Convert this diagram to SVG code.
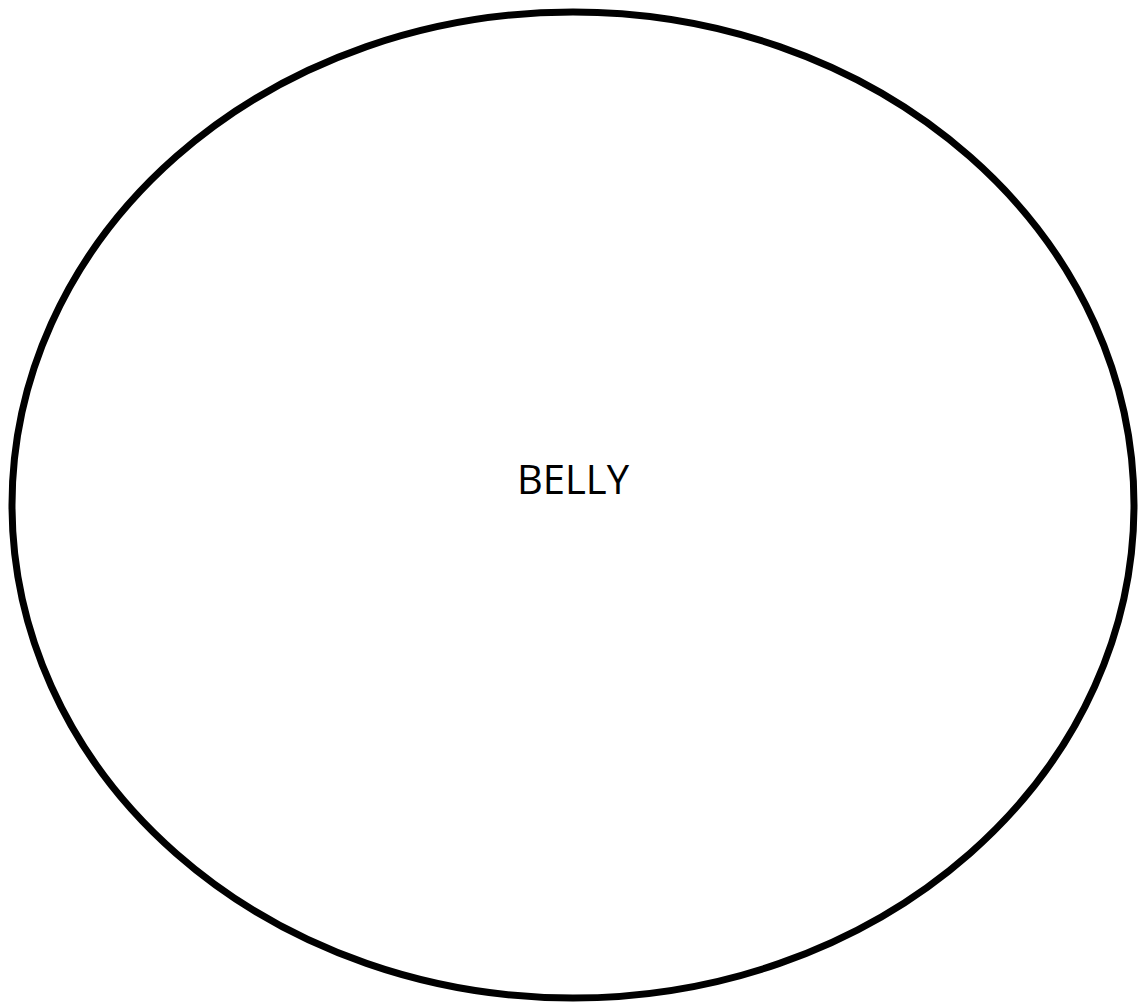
<svg xmlns="http://www.w3.org/2000/svg" width="1145" height="1006" viewBox="0 0 1145 1006">
<style>
.shape{fill:#ffffff;stroke:#000000;stroke-width:7}
.label{font-family:"Open Sans","Noto Sans","DejaVu Sans",sans-serif;font-size:40px;fill:#000000;text-anchor:middle}
</style>
<rect width="1145" height="1006" fill="#ffffff"/>
<g id="belly">
<ellipse class="shape" cx="573" cy="505" rx="561" ry="493"/>
<text class="label" x="573" y="494">BELLY</text>
</g>
<g id="connectors"></g>
</svg>
